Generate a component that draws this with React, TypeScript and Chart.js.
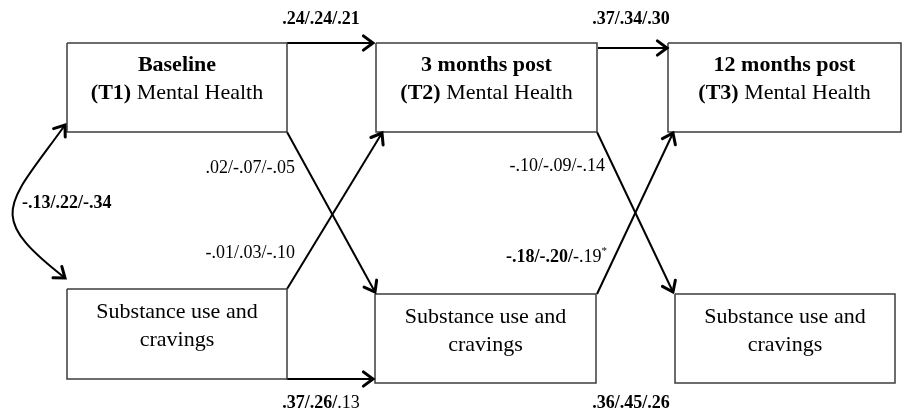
import { useEffect, useRef } from "react";
import { Chart, registerables } from "chart.js";

Chart.register(...registerables);

// ---------- data ----------
const waves = ["Baseline", "3 months post", "12 months post"];
const waveCodes = ["(T1)", "(T2)", "(T3)"];
const mhLabel = "Mental Health";
const suLines = ["Substance use and", "cravings"];

const mhStability = [[".24", ".24", ".21"], [".37", ".34", ".30"]];
const mhStabilityBold = [[1, 1, 1], [1, 1, 1]];
const suStability = [[".37", ".26", ".13"], [".36", ".45", ".26"]];
const suStabilityBold = [[1, 1, 0], [1, 1, 1]];
const mhToSu = [[".02", "-.07", "-.05"], ["-.10", "-.09", "-.14"]];
const mhToSuBold = [[0, 0, 0], [0, 0, 0]];
const suToMh = [["-.01", ".03", "-.10"], ["-.18", "-.20", "-.19"]];
const suToMhBold = [[0, 0, 0], [1, 1, 0]];
const suToMhStar = [false, true];
const baselineCorr = ["-.13", ".22", "-.34"];
const baselineCorrBold = [1, 1, 1];

// ---------- layout (diagram coordinates) ----------
const W = 903;
const H = 410;
const mhBoxes = [
  [67, 43, 287, 132],
  [376, 43, 597, 132],
  [668, 43, 901, 132],
];
const suBoxes = [
  [67, 289, 287, 379],
  [375, 294, 596, 383],
  [675, 294, 895, 383],
];
// straight paths [x1, y1, x2, y2]
const mhPaths = [
  [287, 43, 373, 43],
  [598, 48, 667, 48],
];
const suPaths = [[287, 379, 373, 379]];
const crossMhToSu = [
  [287, 132, 375, 292],
  [597, 132, 673, 292],
];
const crossSuToMh = [
  [287, 289, 382, 133],
  [597, 294, 673, 133],
];
const corrCurve = [65, 278, -16, 215, 7, 206, 65, 125];

const mhStabPos = [[321, 19, "center"], [631, 19, "center"]];
const suStabPos = [[321, 403, "center"], [631, 403, "center"]];
const mhToSuPos = [[295, 168, "right"], [605, 166, "right"]];
const suToMhPos = [[295, 253, "right"], [607, 257, "right"]];
const corrPos = [22, 203, "left"];

const FONT = '"Liberation Serif", "Times New Roman", serif';
const BOX_FS = 22;
const LBL_FS = 18;

type Run = { t: string; bold?: boolean; sup?: boolean; size?: number };

function tripleRuns(vals: string[], bold: number[], star = false): Run[] {
  const runs: Run[] = vals.map((v, i) => ({
    t: v + (i < vals.length - 1 ? "/" : ""),
    bold: !!bold[i],
    size: LBL_FS,
  }));
  if (star) runs.push({ t: "*", sup: true, size: 11 });
  return runs;
}

function fontOf(r: Run) {
  return `${r.bold ? "bold " : ""}${r.size || LBL_FS}px ${FONT}`;
}

function drawRuns(ctx: CanvasRenderingContext2D, runs: Run[], x: number, y: number, align: string) {
  let total = 0;
  const widths = runs.map((r) => {
    ctx.font = fontOf(r);
    const w = ctx.measureText(r.t).width;
    total += w;
    return w;
  });
  let cx = align === "center" ? x - total / 2 : align === "right" ? x - total : x;
  ctx.textAlign = "left";
  ctx.textBaseline = "middle";
  runs.forEach((r, i) => {
    ctx.font = fontOf(r);
    ctx.fillText(r.t, cx, r.sup ? y - 6 : y);
    cx += widths[i];
  });
}

function arrowHead(ctx: CanvasRenderingContext2D, x: number, y: number, ang: number) {
  const len = 12;
  const spread = 0.64;
  ctx.save();
  ctx.lineWidth = 3;
  ctx.lineCap = "round";
  ctx.lineJoin = "miter";
  ctx.strokeStyle = "#000";
  ctx.beginPath();
  ctx.moveTo(x - len * Math.cos(ang - spread), y - len * Math.sin(ang - spread));
  ctx.lineTo(x, y);
  ctx.lineTo(x - len * Math.cos(ang + spread), y - len * Math.sin(ang + spread));
  ctx.stroke();
  ctx.restore();
}

function rectPts(b: number[]) {
  const [l, t, r, bt] = b;
  return [
    { x: l, y: t },
    { x: r, y: t },
    { x: r, y: bt },
    { x: l, y: bt },
    { x: l, y: t },
  ];
}

function linePts(p: number[]) {
  return [
    { x: p[0], y: p[1] },
    { x: p[2], y: p[3] },
  ];
}

const diagramPlugin = {
  id: "diagram",
  afterDatasetsDraw(chart: any) {
    const ctx: CanvasRenderingContext2D = chart.ctx;
    const xs = chart.scales.x;
    const ys = chart.scales.y;
    const X = (v: number) => xs.getPixelForValue(v);
    const Y = (v: number) => ys.getPixelForValue(v);
    ctx.save();
    ctx.fillStyle = "#000";

    // arrowheads on straight paths
    [...mhPaths, ...suPaths, ...crossMhToSu, ...crossSuToMh].forEach((p) => {
      const ang = Math.atan2(Y(p[3]) - Y(p[1]), X(p[2]) - X(p[0]));
      arrowHead(ctx, X(p[2]), Y(p[3]), ang);
    });

    // correlation curve
    const c = corrCurve;
    ctx.lineWidth = 2;
    ctx.strokeStyle = "#000";
    ctx.beginPath();
    ctx.moveTo(X(c[0]), Y(c[1]));
    ctx.bezierCurveTo(X(c[2]), Y(c[3]), X(c[4]), Y(c[5]), X(c[6]), Y(c[7]));
    ctx.stroke();
    arrowHead(ctx, X(c[0]), Y(c[1]), Math.atan2(Y(c[1]) - Y(c[3]), X(c[0]) - X(c[2])));
    arrowHead(ctx, X(c[6]), Y(c[7]), Math.atan2(Y(c[7]) - Y(c[5]), X(c[6]) - X(c[4])));

    // box text
    mhBoxes.forEach((b, i) => {
      const cx = X((b[0] + b[2]) / 2);
      drawRuns(ctx, [{ t: waves[i], bold: true, size: BOX_FS }], cx, Y(b[1] + 22), "center");
      drawRuns(
        ctx,
        [
          { t: waveCodes[i] + " ", bold: true, size: BOX_FS },
          { t: mhLabel, size: BOX_FS },
        ],
        cx,
        Y(b[1] + 50),
        "center"
      );
    });
    suBoxes.forEach((b) => {
      const cx = X((b[0] + b[2]) / 2);
      drawRuns(ctx, [{ t: suLines[0], size: BOX_FS }], cx, Y(b[1] + 23), "center");
      drawRuns(ctx, [{ t: suLines[1], size: BOX_FS }], cx, Y(b[1] + 51), "center");
    });

    // coefficient labels
    const put = (runs: Run[], pos: any[]) => drawRuns(ctx, runs, X(pos[0]), Y(pos[1]), pos[2]);
    mhStability.forEach((v, i) => put(tripleRuns(v, mhStabilityBold[i]), mhStabPos[i]));
    suStability.forEach((v, i) => put(tripleRuns(v, suStabilityBold[i]), suStabPos[i]));
    mhToSu.forEach((v, i) => put(tripleRuns(v, mhToSuBold[i]), mhToSuPos[i]));
    suToMh.forEach((v, i) => put(tripleRuns(v, suToMhBold[i], suToMhStar[i]), suToMhPos[i]));
    put(tripleRuns(baselineCorr, baselineCorrBold), corrPos);

    ctx.restore();
  },
};

export default function App() {
  const ref = useRef<HTMLCanvasElement | null>(null);
  useEffect(() => {
    document.body.style.margin = "0";
    const boxStyle = {
      showLine: true,
      borderColor: "#3c3c3c",
      borderWidth: 1.5,
      pointRadius: 0,
      fill: false,
      tension: 0,
      clip: false as any,
    };
    const arrowStyle = {
      showLine: true,
      borderColor: "#000",
      borderWidth: 2,
      pointRadius: 0,
      fill: false,
      tension: 0,
      clip: false as any,
    };
    const datasets: any[] = [
      ...mhBoxes.map((b) => ({ ...boxStyle, data: rectPts(b) })),
      ...suBoxes.map((b) => ({ ...boxStyle, data: rectPts(b) })),
      ...[...mhPaths, ...suPaths, ...crossMhToSu, ...crossSuToMh].map((p) => ({
        ...arrowStyle,
        data: linePts(p),
      })),
    ];
    const chart = new Chart(ref.current as HTMLCanvasElement, {
      type: "scatter",
      data: { datasets },
      options: {
        animation: false,
        responsive: false,
        devicePixelRatio: 1,
        layout: { padding: 0 },
        events: [],
        scales: {
          x: { type: "linear", min: 0, max: W, display: false },
          y: { type: "linear", min: 0, max: H, reverse: true, display: false },
        },
        plugins: { legend: { display: false }, tooltip: { enabled: false } },
      },
      plugins: [diagramPlugin],
    });
    return () => chart.destroy();
  }, []);
  return (
    <div style={{ width: W, height: H, background: "#fff" }}>
      <canvas ref={ref} width={W} height={H} style={{ display: "block" }} />
    </div>
  );
}
